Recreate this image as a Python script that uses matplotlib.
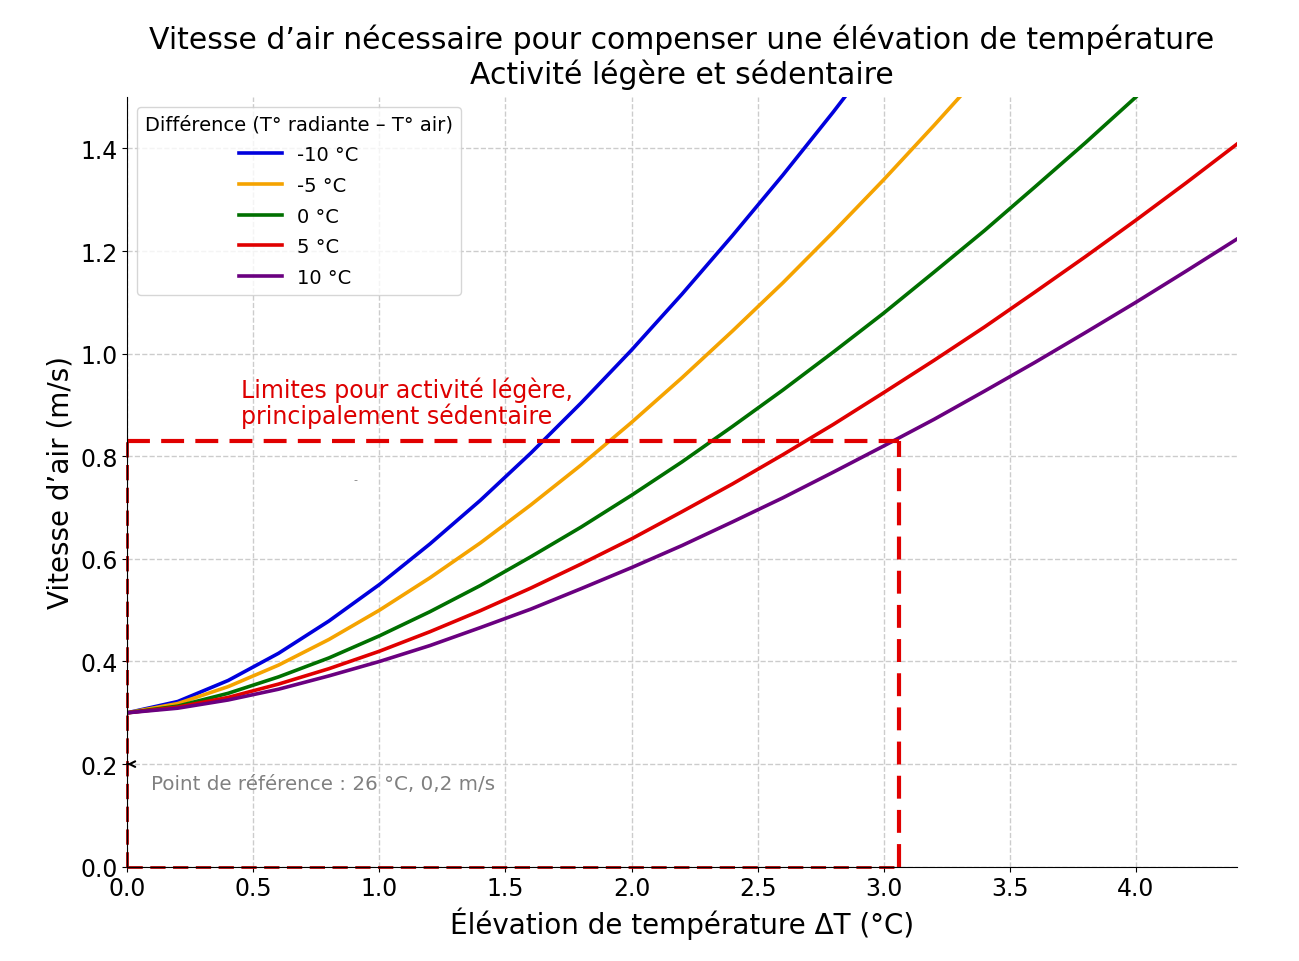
import matplotlib.pyplot as plt

# temperature rise (°C), sampled every 0.2
dt = [0.0, 0.2, 0.4, 0.6, 0.8, 1.0, 1.2, 1.4, 1.6, 1.8, 2.0, 2.2, 2.4,
      2.6, 2.8, 3.0, 3.2, 3.4, 3.6, 3.8, 4.0, 4.2, 4.4]

# required air speed (m/s) for each radiant - air temperature difference
v_minus10 = [0.300, 0.322, 0.363, 0.416, 0.479, 0.550, 0.629, 0.714, 0.806, 0.904,
             1.007, 1.116, 1.230, 1.348, 1.471, 1.599]
v_minus5 = [0.300, 0.318, 0.351, 0.393, 0.443, 0.500, 0.563, 0.631, 0.705, 0.783,
            0.866, 0.953, 1.044, 1.138, 1.237, 1.339, 1.445, 1.554]
v_zero = [0.300, 0.313, 0.338, 0.370, 0.407, 0.450, 0.497, 0.548, 0.604, 0.662,
          0.724, 0.789, 0.858, 0.929, 1.003, 1.079, 1.159, 1.240, 1.325, 1.411, 1.500]
v_plus5 = [0.300, 0.311, 0.330, 0.356, 0.386, 0.420, 0.458, 0.499, 0.543, 0.590,
           0.639, 0.692, 0.746, 0.803, 0.862, 0.924, 0.987, 1.052, 1.120, 1.189,
           1.260, 1.333, 1.408]
v_plus10 = [0.300, 0.309, 0.325, 0.346, 0.372, 0.400, 0.431, 0.466, 0.502, 0.542,
            0.583, 0.626, 0.672, 0.719, 0.769, 0.820, 0.872, 0.927, 0.983, 1.041,
            1.100, 1.161, 1.223]

labels = ["-10 °C", "-5 °C", "0 °C", "5 °C", "10 °C"]
colors = ["#0000dd", "#f5a300", "#007000", "#e00000", "#6a0080"]

# limit for light activity
limit_dt = 3.06
limit_v = 0.83

fig = plt.figure(figsize=(12.99, 9.62), dpi=100)
ax = fig.add_axes([0.098, 0.098, 0.854, 0.8])

for v, lab, c in zip([v_minus10, v_minus5, v_zero, v_plus5, v_plus10], labels, colors):
    ax.plot(dt[:len(v)], v, color=c, lw=2.6, label=lab)

# red limit box
ax.plot([0, limit_dt], [limit_v, limit_v], ls="--", color="#e00000", lw=3, dashes=(5.5, 2.7))
ax.plot([limit_dt, limit_dt], [0, limit_v], ls="--", color="#e00000", lw=3, dashes=(5.5, 2.7))
ax.plot([0, limit_dt], [0, 0], ls="--", color="#b00000", lw=2, dashes=(5.5, 2.7), clip_on=False)
ax.plot([0, 0], [0, limit_v], ls="--", color="#b00000", lw=2, dashes=(5.5, 2.7), clip_on=False)

ax.text(0.45, 0.855, "Limites pour activité légère,\nprincipalement sédentaire",
        color="#dd0000", fontsize=17, va="bottom", ha="left", linespacing=1.05)

ax.text(0.095, 0.162, "Point de référence : 26 °C, 0,2 m/s", color="grey",
        fontsize=14.3, va="center")
ax.annotate("", xy=(0, 0.2), xytext=(0.012, 0.2),
            arrowprops=dict(arrowstyle="->", color="black", lw=1.5))
ax.text(0.905, 0.755, "-", color="grey", fontsize=8, ha="center", va="center")

ax.set_xlim(0, 4.4)
ax.set_ylim(0, 1.5)
ax.set_xticks([0, 0.5, 1.0, 1.5, 2.0, 2.5, 3.0, 3.5, 4.0])
ax.set_yticks([0, 0.2, 0.4, 0.6, 0.8, 1.0, 1.2, 1.4])
ax.tick_params(labelsize=17)
ax.grid(True, ls="--", color="#cccccc", lw=1)
ax.spines["top"].set_visible(False)
ax.spines["right"].set_visible(False)

ax.set_xlabel("Élévation de température ΔT (°C)", fontsize=20)
ax.set_ylabel("Vitesse d’air (m/s)", fontsize=20)
ax.set_title("Vitesse d’air nécessaire pour compenser une élévation de température\n"
             "Activité légère et sédentaire", fontsize=21.5, pad=10)

ax.legend(title="Différence (T° radiante – T° air)", loc="upper left",
          fontsize=14, title_fontsize=14, handlelength=2.2, labelspacing=0.6)

fig.savefig("out.png", dpi=100)
